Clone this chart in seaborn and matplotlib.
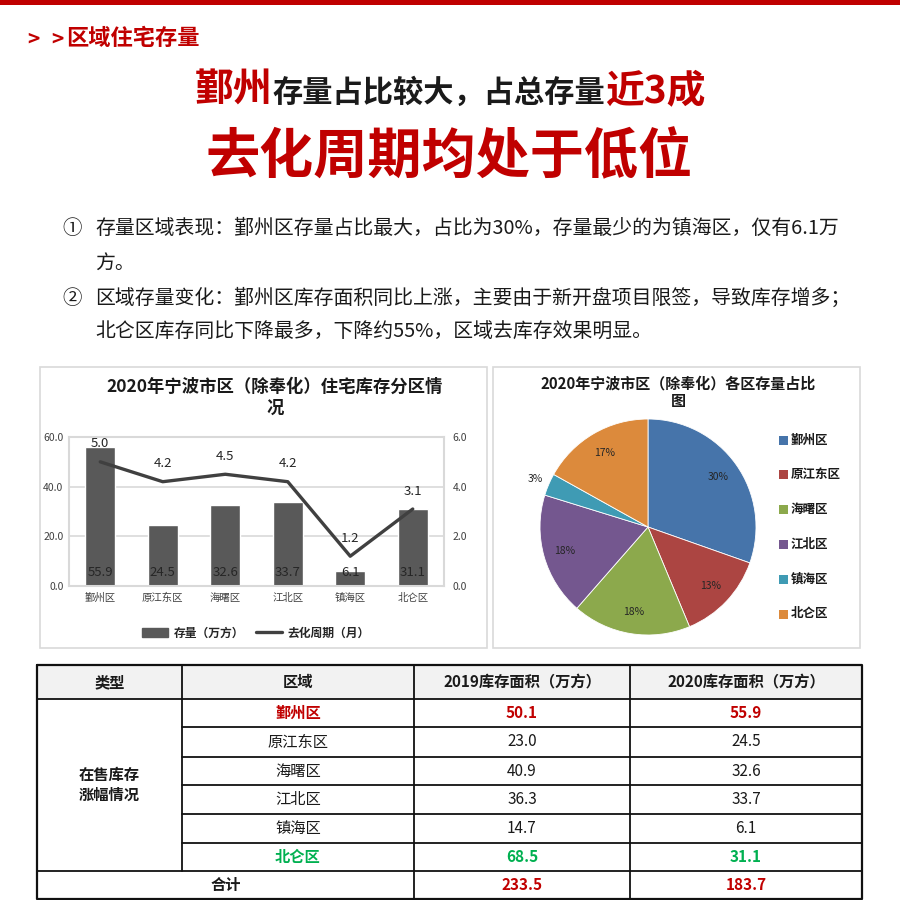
import matplotlib
matplotlib.use('Agg')
import matplotlib.pyplot as plt
from matplotlib.patches import Rectangle, Patch
from matplotlib.lines import Line2D
import seaborn as sns
import numpy as np
import pandas as pd

# ---------------- data ----------------
districts = ['鄞州区', '原江东区', '海曙区', '江北区', '镇海区', '北仑区']
stock_2020 = [55.9, 24.5, 32.6, 33.7, 6.1, 31.1]
stock_2019 = [50.1, 23.0, 40.9, 36.3, 14.7, 68.5]
cycle_months = [5.0, 4.2, 4.5, 4.2, 1.2, 3.1]
total_2019 = 233.5
total_2020 = 183.7
left_yticks = [0, 20, 40, 60]
right_yticks = [0, 2, 4, 6]

section_marks = ['>', '>']
section_title = '区域住宅存量'
headline1 = [('鄞州', 'red'), ('存量占比较大，占总存量', 'black'), ('近3成', 'red')]
headline2 = '去化周期均处于低位'
bullets = [('①', ['存量区域表现：鄞州区存量占比最大，占比为30%，存量最少的为镇海区，仅有6.1万', '方。']),
           ('②', ['区域存量变化：鄞州区库存面积同比上涨，主要由于新开盘项目限签，导致库存增多；',
                  '北仑区库存同比下降最多，下降约55%，区域去库存效果明显。'])]
bar_title = ['2020年宁波市区（除奉化）住宅库存分区情', '况']
pie_title = ['2020年宁波市区（除奉化）各区存量占比', '图']
legend_bar = '存量（万方）'
legend_line = '去化周期（月）'
table_header = ['类型', '区域', '2019库存面积（万方）', '2020库存面积（万方）']
table_group = '在售库存\n涨幅情况'
table_total = '合计'

# ---------------- style ----------------
sns.set_theme(style='white')
plt.rcParams['font.family'] = ['Noto Sans CJK SC', 'DejaVu Sans']
plt.rcParams['axes.unicode_minus'] = False

RED = '#c00000'
GREEN = '#00b050'
BLACK = '#1a1a1a'
BAR = '#595959'
LINE = '#404040'
GRID = '#d9d9d9'
pie_colors = ['#4674aa', '#ac4542', '#8ca94c', '#74578f', '#3f9bb4', '#dc8a3c']

fig = plt.figure(figsize=(9, 9), dpi=100)
bg = fig.add_axes([0, 0, 1, 1])
bg.set_xlim(0, 900)
bg.set_ylim(900, 0)
bg.axis('off')
renderer = fig.canvas.get_renderer()

# top bar + section title
bg.add_patch(Rectangle((0, 0), 900, 5, color=RED, lw=0))
bg.text(27, 39, section_marks[0], fontsize=15, fontweight='bold', color=RED, va='center', ha='left')
bg.text(51, 39, section_marks[1], fontsize=15, fontweight='bold', color=RED, va='center', ha='left')
bg.text(66, 38, section_title, fontsize=16, fontweight='bold', color=RED, va='center', ha='left')

# headline 1 (mixed sizes)
pieces = []
for txt, kind in headline1:
    size = 28 if kind == 'red' else 21.8
    col = RED if kind == 'red' else BLACK
    t = bg.text(0, 102, txt, fontsize=size, fontweight='bold', color=col, va='baseline', ha='left')
    pieces.append(t)
widths = [p.get_window_extent(renderer).width for p in pieces]
x0 = 450 - sum(widths) / 2
for p, w in zip(pieces, widths):
    p.set_x(x0)
    x0 += w

bg.text(449, 158, headline2, fontsize=39, fontweight='bold', color=RED, va='center', ha='center')

# bullets
ys = [228, 263, 298, 332]
k = 0
for mark, lines in bullets:
    bg.text(62, ys[k], mark, fontsize=14, color=BLACK, va='center', ha='left')
    for ln in lines:
        bg.text(95, ys[k], ln, fontsize=14.3, color=BLACK, va='center', ha='left')
        k += 1

# chart boxes
bg.add_patch(Rectangle((40, 367), 447, 281, fill=False, ec=GRID, lw=1.2))
bg.add_patch(Rectangle((493, 367), 367, 281, fill=False, ec=GRID, lw=1.2))
bg.text(275, 387, bar_title[0], fontsize=12.5, fontweight='bold', color=BLACK, ha='center', va='center')
bg.text(275, 408, bar_title[1], fontsize=12.5, fontweight='bold', color=BLACK, ha='center', va='center')
bg.text(678, 383, pie_title[0], fontsize=10.8, fontweight='bold', color=BLACK, ha='center', va='center')
bg.text(678, 401, pie_title[1], fontsize=10.8, fontweight='bold', color=BLACK, ha='center', va='center')

# ---------------- bar + line chart ----------------
ax = fig.add_axes([69 / 900, 1 - 586 / 900, 375 / 900, 149 / 900])
df = pd.DataFrame({'区域': districts, '存量': stock_2020, '去化周期': cycle_months})
sns.barplot(data=df, x='区域', y='存量', color=BAR, width=0.48, saturation=1, ax=ax, zorder=2)
ax.set_xlim(-0.5, len(districts) - 0.5)
ax.set_ylim(0, 60)
ax.set_yticks(left_yticks)
ax.set_yticklabels([f'{v:.1f}' for v in left_yticks])
ax.set_xlabel('')
ax.set_ylabel('')
ax.yaxis.grid(True, color=GRID, lw=1.2, zorder=0)
ax.set_axisbelow(True)
for s in ax.spines.values():
    s.set_color(GRID)
    s.set_linewidth(1.5)
ax.tick_params(axis='both', length=0, labelsize=7.5, labelcolor='#404040')
ax.tick_params(axis='y', pad=4)
ax.tick_params(axis='x', pad=5)
for i, v in enumerate(stock_2020):
    ax.text(i, 5.6, f'{v:.1f}', ha='center', va='center', fontsize=9.5, color='#262626', zorder=5)

ax2 = ax.twinx()
sns.lineplot(x=np.arange(len(cycle_months)), y=cycle_months, color=LINE, lw=2.4, ax=ax2, zorder=4)
ax2.set_ylim(0, 6)
ax2.set_yticks(right_yticks)
ax2.set_yticklabels([f'{v:.1f}' for v in right_yticks])
ax2.tick_params(axis='y', length=0, labelsize=7.5, labelcolor='#404040', pad=6)
ax2.set_ylabel('')
for s in ax2.spines.values():
    s.set_visible(False)
for i, v in enumerate(cycle_months):
    ax2.annotate(f'{v:.1f}', (i, v), xytext=(0, 18), textcoords='offset pixels',
                 ha='center', va='center', fontsize=9.5, color='#262626')
ax.set_xlim(-0.5, len(districts) - 0.5)

handles = [Patch(facecolor=BAR, edgecolor=BAR), Line2D([0], [0], color=LINE, lw=2.4)]
leg = fig.legend(handles, [legend_bar, legend_line], loc='center', bbox_to_anchor=(256 / 900, 1 - 633 / 900),
                 ncol=2, frameon=False, handlelength=2.2, handleheight=0.7, columnspacing=1.0, handletextpad=0.5,
                 prop={'size': 8.5, 'weight': 'bold'})

# ---------------- pie ----------------
pax = fig.add_axes([540 / 900, 1 - 635 / 900, 216 / 900, 216 / 900])
wedges, texts, autotexts = pax.pie(stock_2020, colors=pie_colors, startangle=90, counterclock=False,
                                   autopct=lambda p: f'{p:.0f}%', pctdistance=0.8,
                                   wedgeprops={'edgecolor': 'white', 'linewidth': 0.6},
                                   textprops={'fontsize': 7.5, 'color': '#262626'})
total = sum(stock_2020)
for v, at in zip(stock_2020, autotexts):
    if v / total < 0.05:
        x, y = at.get_position()
        at.set_position((x * 1.13 / 0.8, y * 1.13 / 0.8))
pax.set_xlim(-1.0, 1.0)
pax.set_ylim(-1.0, 1.0)
pax.set_aspect('equal')

for i, (name, col) in enumerate(zip(districts, pie_colors)):
    yy = 440 + i * 34.8
    bg.add_patch(Rectangle((779, yy - 4.5), 9, 9, color=col, lw=0))
    bg.text(791, yy, name, fontsize=9, fontweight='bold', color=BLACK, va='center', ha='left')

# ---------------- table ----------------
cols = [37, 182, 414, 630, 862]
rows = [665, 699, 727, 757, 785, 814, 843, 871, 899]
bg.add_patch(Rectangle((cols[0], rows[0]), cols[-1] - cols[0], rows[1] - rows[0], color='#f2f2f2', lw=0))
lw = 1.3
lc = '#111111'
bg.plot([cols[0], cols[-1], cols[-1], cols[0], cols[0]], [rows[0], rows[0], rows[-1], rows[-1], rows[0]], color=lc, lw=1.6)
bg.plot([cols[0], cols[-1]], [rows[1]] * 2, color=lc, lw=lw)
bg.plot([cols[0], cols[-1]], [rows[-2]] * 2, color=lc, lw=lw)
for r in rows[2:-2]:
    bg.plot([cols[1], cols[-1]], [r] * 2, color=lc, lw=lw)
bg.plot([cols[1]] * 2, [rows[0], rows[-2]], color=lc, lw=lw)
for c in cols[2:-1]:
    bg.plot([c] * 2, [rows[0], rows[-1]], color=lc, lw=lw)

def cx(i):
    return (cols[i] + cols[i + 1]) / 2

def ry(j):
    return (rows[j] + rows[j + 1]) / 2

for i, h in enumerate(table_header):
    bg.text(cx(i), ry(0), h, fontsize=11, fontweight='bold', color=BLACK, ha='center', va='center')
bg.text(cx(0), (rows[1] + rows[-2]) / 2, table_group, fontsize=11, fontweight='bold', color=BLACK,
        ha='center', va='center', linespacing=1.3)
n = len(districts)
for j, (d, a, b) in enumerate(zip(districts, stock_2019, stock_2020)):
    if j == 0:
        col, wt = RED, 'bold'
    elif j == n - 1:
        col, wt = GREEN, 'bold'
    else:
        col, wt = BLACK, 'normal'
    bg.text(cx(1), ry(j + 1), d, fontsize=11, fontweight=wt, color=col, ha='center', va='center')
    bg.text(cx(2), ry(j + 1), f'{a:.1f}', fontsize=11, fontweight=wt, color=col, ha='center', va='center')
    bg.text(cx(3), ry(j + 1), f'{b:.1f}', fontsize=11, fontweight=wt, color=col, ha='center', va='center')
bg.text((cols[0] + cols[2]) / 2, ry(len(rows) - 2), table_total, fontsize=11, fontweight='bold', color=BLACK,
        ha='center', va='center')
bg.text(cx(2), ry(len(rows) - 2), f'{total_2019:.1f}', fontsize=11, fontweight='bold', color=RED, ha='center', va='center')
bg.text(cx(3), ry(len(rows) - 2), f'{total_2020:.1f}', fontsize=11, fontweight='bold', color=RED, ha='center', va='center')

fig.savefig('out.png', dpi=100)
